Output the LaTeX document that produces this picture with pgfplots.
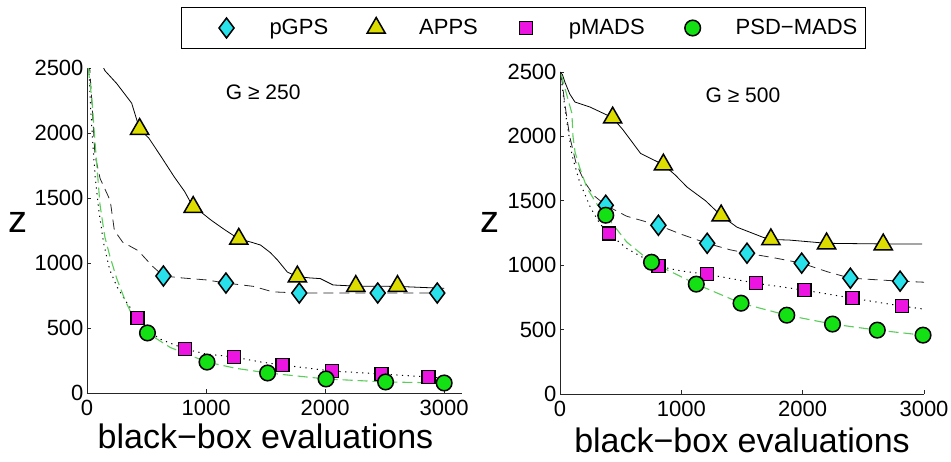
\documentclass[border=0pt]{standalone}
\usepackage{fontspec}
\setmainfont{Liberation Sans}
\usepackage{pgfplots}
\pgfplotsset{compat=1.18}

\definecolor{cGPS}{RGB}{40,225,235}
\definecolor{cAPPS}{RGB}{220,220,0}
\definecolor{cMADS}{RGB}{235,20,225}
\definecolor{cPSD}{RGB}{20,225,20}
\definecolor{cPSDline}{RGB}{90,205,90}

\pgfplotsset{
  common/.style={
    scale only axis,
    axis x line*=bottom, axis y line*=left,
    axis line style={-, line width=0.8pt, black!85},
    every outer x axis line/.append style={-},
    every outer y axis line/.append style={-},
    tick align=inside,
    major tick length=4pt,
    tick style={line width=0.8pt, black!85},
    xmin=0, ymin=0, ymax=2500,
    xtick={0,1000,2000,3000},
    ytick={0,500,1000,1500,2000,2500},
    scaled ticks=false,
    /pgf/number format/set thousands separator={},
    /pgf/number format/assume math mode=true,
    tick label style={font=\fontsize{22}{26}\selectfont},
    xticklabel style={yshift=-4pt},
    clip mode=individual,
    xlabel={black−box evaluations},
    ylabel={z},
    xlabel style={font=\fontsize{34}{38}\selectfont, anchor=base},
    ylabel style={font=\fontsize{38}{40}\selectfont, rotate=-90, anchor=center},
  },
  lGPS/.style={black!85, line width=0.8pt, dash pattern=on 10pt off 6pt},
  lAPPS/.style={black, line width=0.8pt},
  lMADS/.style={black, line width=1pt, dash pattern=on 1.2pt off 4.5pt},
  lPSD/.style={cPSDline, line width=1.1pt, dash pattern=on 10pt off 5pt},
  mGPS/.style={only marks, mark=diamond*, mark size=10pt, mark options={solid, fill=cGPS, draw=black, line width=1.5pt}},
  mAPPS/.style={only marks, mark=triangle*, mark size=10.5pt, mark options={solid, fill=cAPPS, draw=black, line width=1.5pt}},
  mMADS/.style={only marks, mark=square*, mark size=6.5pt, mark options={solid, fill=cMADS, draw=black, line width=1.5pt}},
  mPSD/.style={only marks, mark=*, mark size=7.8pt, mark options={solid, fill=cPSD, draw=black, line width=1.5pt}},
}

\begin{document}
\begin{tikzpicture}
\path[use as bounding box] (0pt,0pt) rectangle (951pt,461pt);

% ---------------- left panel ----------------
\begin{axis}[common,
  at={(87pt,68pt)}, anchor=south west,
  width=375pt, height=325pt, xmax=3150,
  xlabel style={at={(axis description cs:0.476,0)}, yshift=-55pt},
  ylabel style={at={(axis description cs:-0.184,0.526)}},
  legend columns=4,
  legend image code/.code={\path[draw=none, fill=none] (-37pt,-20.5pt) rectangle (43pt,20.5pt); \draw[#1] plot coordinates {(0pt,0pt)};},
  legend style={at={(axis description cs:0.2507,1.1877)}, anchor=north west,
    draw=black, line width=1pt, font=\fontsize{22}{26}\selectfont,
    inner xsep=8pt, inner ysep=0pt,
    nodes={inner sep=0pt, draw=none}, cells={anchor=west},
    /tikz/every even column/.append style={column sep=11pt}},
]
\addlegendimage{mGPS}\addlegendentry{pGPS}
\addlegendimage{mAPPS}\addlegendentry{APPS}
\addlegendimage{mMADS}\addlegendentry{pMADS}
\addlegendimage{mPSD}\addlegendentry{PSD−MADS}

% lines
\addplot[lGPS, forget plot] table {
x y
20 2540
40 2250
67 1830
110 1650
195 1480
230 1250
300 1160
430 1095
550 975
642 900
800 885
1000 870
1167 846
1400 820
1560 778
1783 769
2442 769
2942 769
3000 768
};
\addplot[lAPPS, forget plot] table {
x y
110 2560
150 2480
250 2380
375 2230
442 2030
520 1960
625 1815
733 1662
820 1550
892 1430
960 1390
1042 1330
1150 1260
1275 1185
1380 1160
1458 1138
1540 1080
1600 1023
1683 930
1767 895
1875 885
1960 880
2067 831
2258 822
2608 820
3000 805
};
\addplot[lMADS, forget plot] table {
x y
15 2500
30 2200
50 1900
70 1650
100 1400
140 1150
190 950
250 820
330 700
425 577
600 420
825 338
1000 300
1233 277
1450 240
1642 215
2058 169
2475 146
2867 123
3000 115
};
\addplot[lPSD, forget plot] table {
x y
10 2500
42 2250
70 1900
109 1450
150 1200
193 1050
250 880
319 715
400 560
508 462
700 350
1008 238
1250 190
1517 154
2008 108
2508 85
3000 77
};

% marks
\addplot[mGPS, forget plot] table {
x y
642 900
1167 846
1783 769
2442 769
2942 769
};
\addplot[mAPPS, forget plot] table {
x y
442 2030
892 1430
1275 1185
1767 895
2258 822
2608 822
};
\addplot[mMADS, forget plot] table {
x y
425 577
825 338
1233 277
1642 215
2058 169
2475 146
2867 123
};
\addplot[mPSD, forget plot] table {
x y
508 462
1008 238
1517 154
2008 108
2508 85
3000 77
};

\node[font=\fontsize{21}{24}\selectfont, anchor=base] at (axis cs:1480,2254) {G ≥ 250};
\end{axis}

% ---------------- right panel ----------------
\begin{axis}[common,
  at={(560pt,67pt)}, anchor=south west,
  width=364pt, height=322pt, xmax=3000,
  xlabel style={at={(axis description cs:0.5,0)}, yshift=-58pt},
  ylabel style={at={(axis description cs:-0.192,0.534)}},
]
\addplot[lGPS, forget plot] table {
x y
10 2480
40 2250
80 2000
130 1800
200 1650
280 1540
377 1465
550 1380
811 1310
1000 1240
1213 1170
1400 1120
1541 1093
1750 1060
1992 1016
2200 950
2393 899
2803 876
3000 868
};
\addplot[lAPPS, forget plot] table {
x y
0 2500
20 2480
41 2420
80 2330
123 2267
247 2228
434 2145
520 2050
664 1868
852 1780
950 1700
1049 1605
1200 1500
1328 1385
1459 1295
1672 1217
1738 1200
1893 1195
2197 1170
2664 1165
2984 1165
};
\addplot[lMADS, forget plot] table {
x y
10 2450
50 2150
100 1850
160 1650
250 1450
330 1320
402 1248
550 1130
811 992
1000 955
1213 930
1615 860
2016 806
2410 744
2820 682
3000 659
};
\addplot[lPSD, forget plot] table {
x y
10 2480
57 2318
98 2180
107 2000
124 1878
165 1750
222 1600
300 1480
377 1388
550 1180
754 1023
1123 853
1492 705
1869 612
2246 543
2615 496
2992 457
};

\addplot[mGPS, forget plot] table {
x y
377 1465
811 1310
1213 1170
1541 1093
1992 1016
2393 899
2803 876
};
\addplot[mAPPS, forget plot] table {
x y
434 2145
852 1780
1328 1385
1738 1200
2197 1168
2664 1160
};
\addplot[mMADS, forget plot] table {
x y
402 1248
811 992
1213 930
1615 860
2016 806
2410 744
2820 682
};
\addplot[mPSD, forget plot] table {
x y
377 1388
754 1023
1123 853
1492 705
1869 612
2246 543
2615 496
2992 457
};

\node[font=\fontsize{21}{24}\selectfont, anchor=base] at (axis cs:1508,2267) {G ≥ 500};
\end{axis}
\end{tikzpicture}
\end{document}
